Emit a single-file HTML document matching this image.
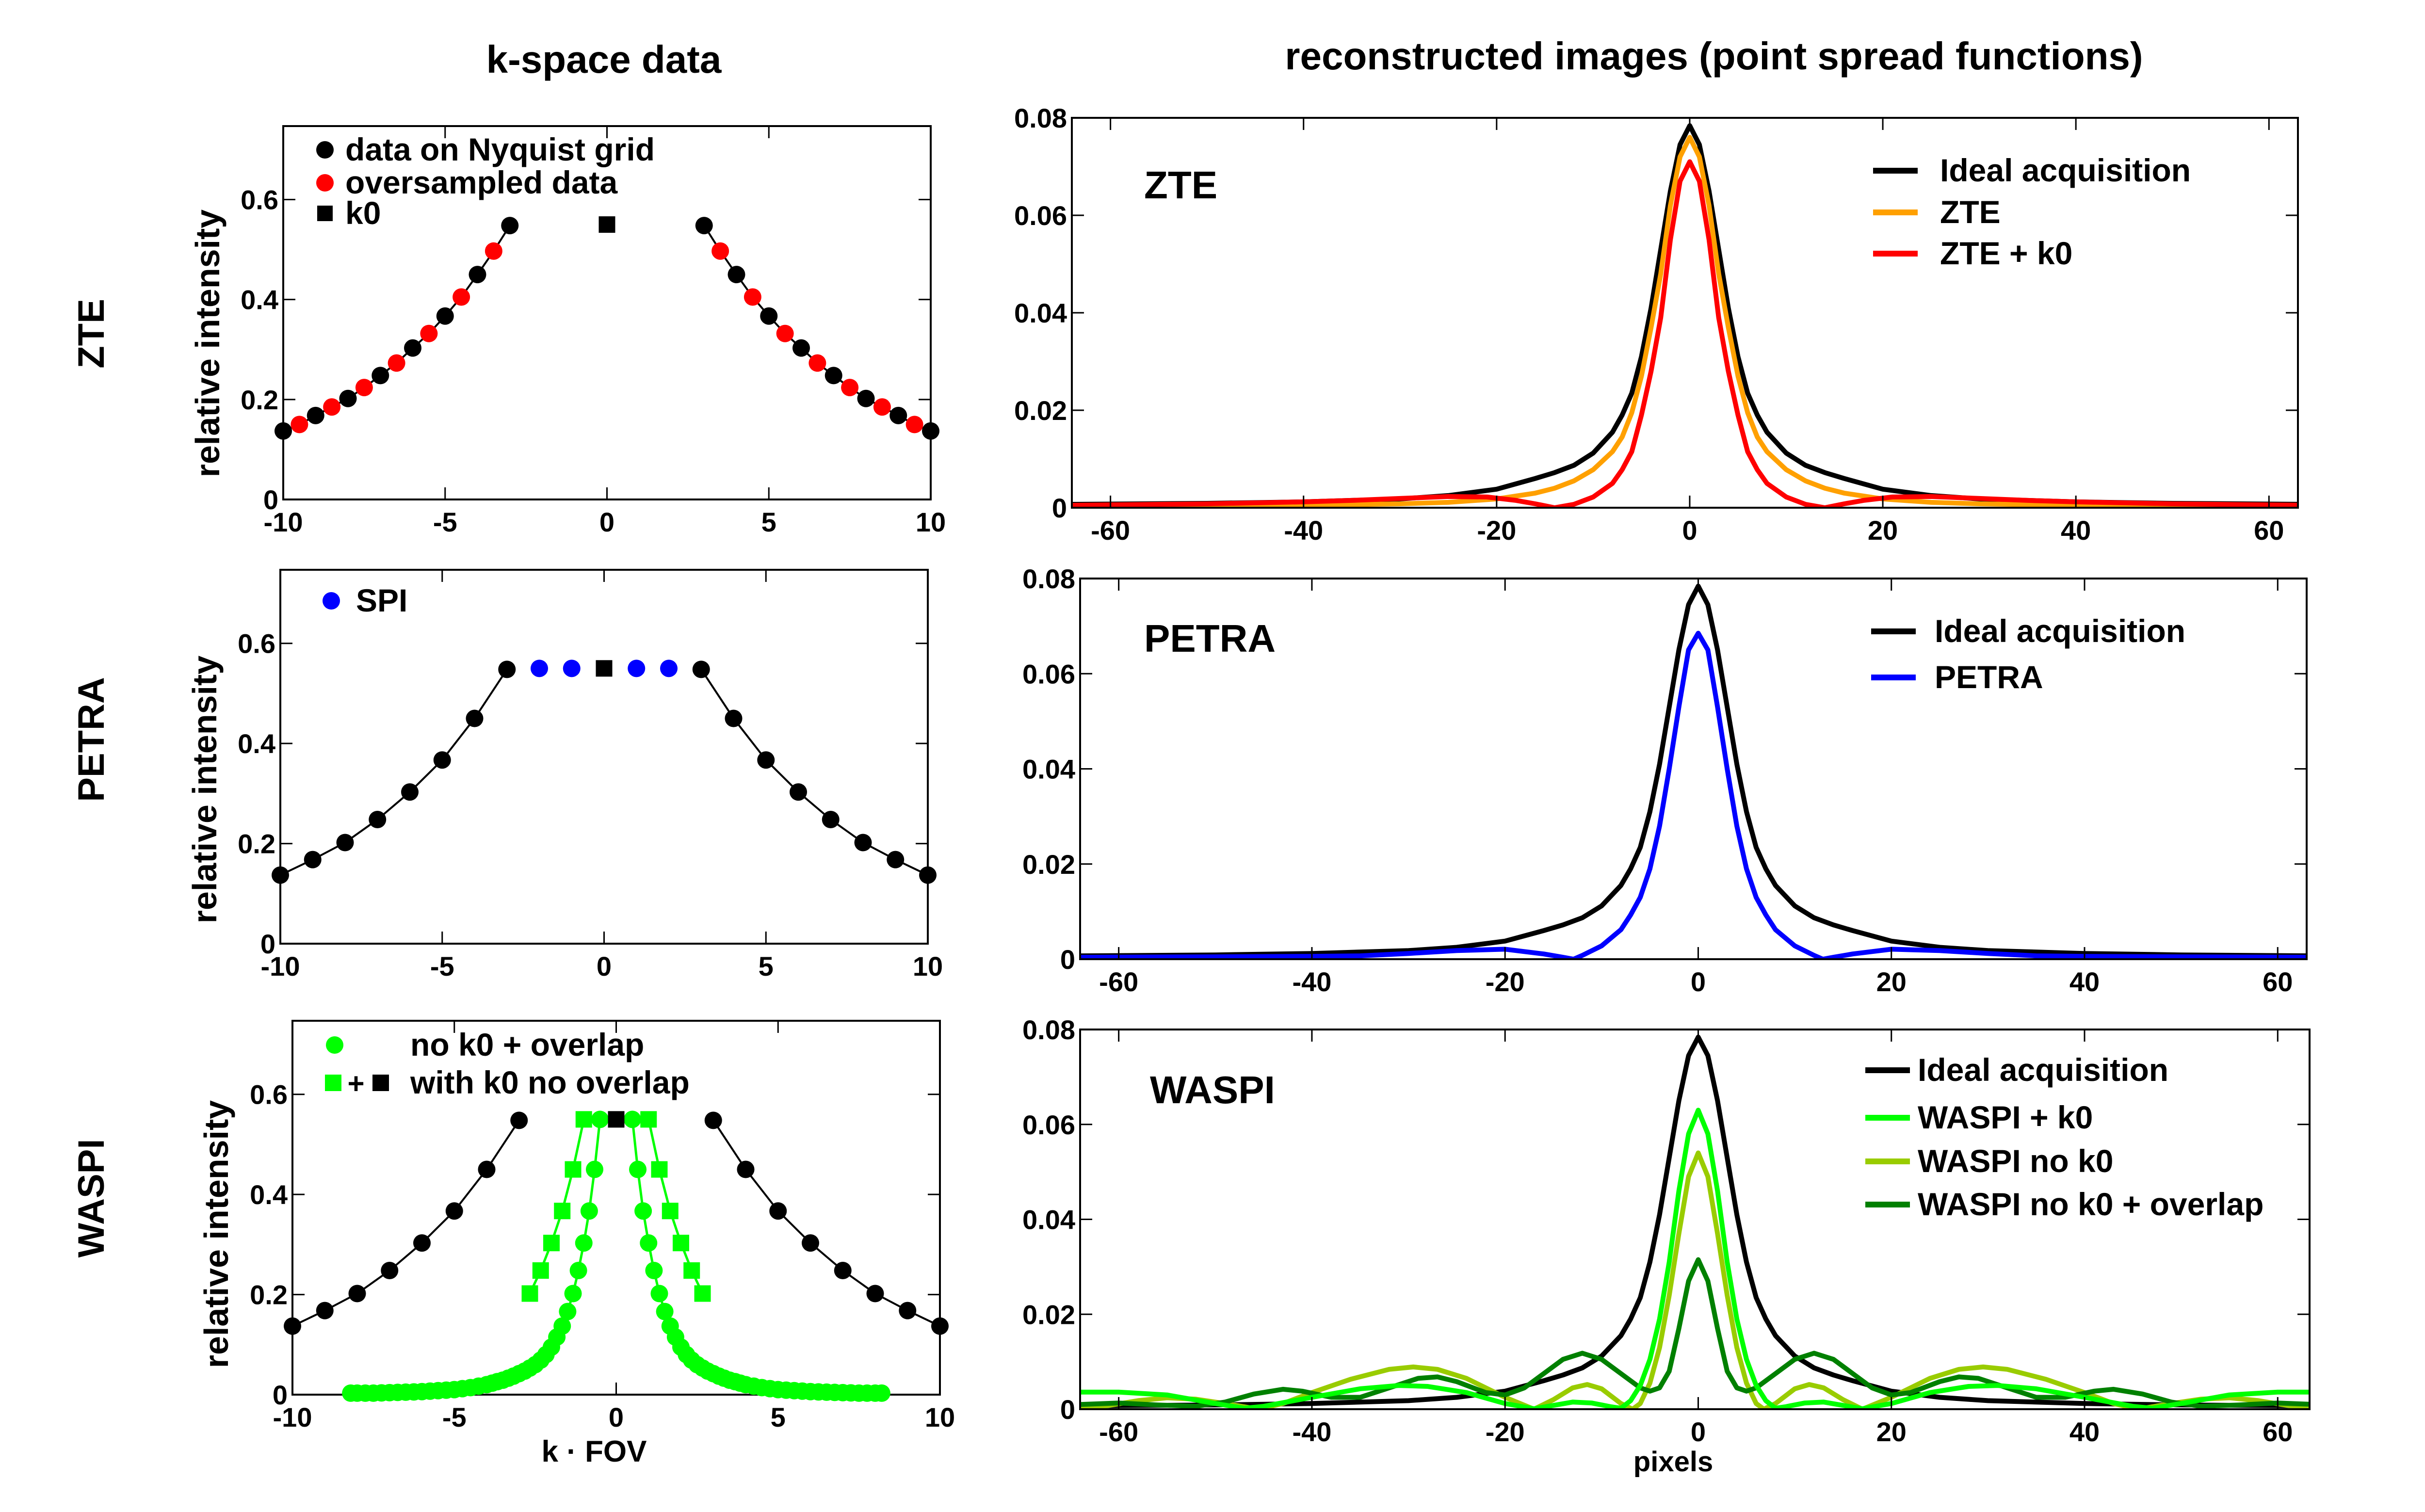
<!DOCTYPE html>
<html><head><meta charset="utf-8">
<style>
html,body{margin:0;padding:0;background:#fff;}
svg{display:block;font-family:"Liberation Sans",Arial,sans-serif;font-weight:bold;}
</style></head>
<body>
<svg id="fig" width="5074" height="3118" viewBox="0 0 5074 3118" xmlns="http://www.w3.org/2000/svg">
<rect width="5074" height="3118" fill="#fff"/>
<text x="1245" y="150" font-size="80" text-anchor="middle">k-space data</text>
<text x="3534" y="143" font-size="80" text-anchor="middle">reconstructed images (point spread functions)</text>
<text transform="translate(214,688) rotate(-90)" font-size="76" text-anchor="middle">ZTE</text>
<text transform="translate(214,1525) rotate(-90)" font-size="76" text-anchor="middle">PETRA</text>
<text transform="translate(214,2471) rotate(-90)" font-size="76" text-anchor="middle">WASPI</text>
</svg>
<script>
// ---------- k-space data (left column) ----------
const kNyqLeft = [-10,-9,-8,-7,-6,-5,-4,-3];
const vNyqLeft = [0.137,0.168,0.202,0.248,0.303,0.367,0.45,0.548];
const kNyqRight = [3,4,5,6,7,8,9,10];
const vNyqRight = [0.548,0.45,0.367,0.303,0.248,0.202,0.168,0.137];
const kOverLeft = [-9.5,-8.5,-7.5,-6.5,-5.5,-4.5,-3.5];
const vOverLeft = [0.150,0.185,0.224,0.273,0.332,0.405,0.497];
const kOverRight = [3.5,4.5,5.5,6.5,7.5,8.5,9.5];
const vOverRight = [0.497,0.405,0.332,0.273,0.224,0.185,0.150];
const kZero = [0];
const vZero = [0.55];
const kSpi = [-2,-1,1,2];
const vSpi = [0.55,0.55,0.55,0.55];
const kWsqLeft = [-2.667,-2.333,-2,-1.667,-1.333,-1];
const vWsqLeft = [0.202,0.248,0.303,0.367,0.45,0.55];
const kWsqRight = [1,1.333,1.667,2,2.333,2.667];
const vWsqRight = [0.55,0.45,0.367,0.303,0.248,0.202];
const kWcLeft = [-8.2,-8,-7.75,-7.5,-7.25,-7,-6.75,-6.5,-6.25,-6,-5.75,-5.5,-5.25,-5,-4.75,-4.5,-4.25,-4,-3.83,-3.67,-3.5,-3.33,-3.17,-3,-2.83,-2.67,-2.5,-2.33,-2.17,-2,-1.833,-1.667,-1.5,-1.333,-1.167,-1,-0.833,-0.667,-0.5];
const vWcLeft = [0.003,0.003,0.003,0.003,0.0035,0.004,0.0045,0.005,0.0055,0.006,0.007,0.008,0.009,0.01,0.012,0.014,0.017,0.02,0.023,0.026,0.029,0.033,0.037,0.042,0.047,0.053,0.06,0.069,0.08,0.095,0.115,0.137,0.166,0.202,0.248,0.303,0.367,0.45,0.55];
const kWcRight = [0.5,0.667,0.833,1,1.167,1.333,1.5,1.667,1.833,2,2.17,2.33,2.5,2.67,2.83,3,3.17,3.33,3.5,3.67,3.83,4,4.25,4.5,4.75,5,5.25,5.5,5.75,6,6.25,6.5,6.75,7,7.25,7.5,7.75,8,8.2];
const vWcRight = [0.55,0.45,0.367,0.303,0.248,0.202,0.166,0.137,0.115,0.095,0.08,0.069,0.06,0.053,0.047,0.042,0.037,0.033,0.029,0.026,0.023,0.02,0.017,0.014,0.012,0.01,0.009,0.008,0.007,0.006,0.0055,0.005,0.0045,0.004,0.0035,0.003,0.003,0.003,0.003];
const kTicks = [-10,-5,0,5,10];
const kTickLabels = ["-10","-5","0","5","10"];
const iTicks = [0,0.2,0.4,0.6];
const iTickLabels = ["0","0.2","0.4","0.6"];

// ---------- PSF data (right column), half profiles x >= 0, mirrored ----------
const psfX_ideal = [0,1,2,3,4,5,6,7,8,10,12,14,16,20,25,30,40,50,64];
const psfV_ideal = [0.0784,0.0745,0.065,0.053,0.041,0.031,0.0235,0.019,0.0155,0.0112,0.0087,0.0072,0.006,0.0038,0.0025,0.0018,0.0012,0.0009,0.0007];
const psfX_zte = [0,1,2,3,4,5,6,7,8,10,12,14,16,20,25,30,40,64];
const psfV_zte = [0.076,0.072,0.062,0.048,0.037,0.027,0.0195,0.0145,0.0115,0.0078,0.0055,0.004,0.003,0.0018,0.0011,0.0008,0.0005,0.0003];
const psfX_ztek0 = [0,1,2,3,4,5,6,7,8,10,12,14,16,18,21,25,30,35,40,50,64];
const psfV_ztek0 = [0.071,0.067,0.055,0.039,0.028,0.019,0.0115,0.0078,0.005,0.0022,0.0007,0,0.0008,0.0015,0.0022,0.0023,0.0019,0.0015,0.0012,0.0008,0.0005];
const psfX_petra = [0,1,2,3,4,5,6,7,8,10,12,12.9,14,16,20,25,30,35,40,50,64];
const psfV_petra = [0.0685,0.065,0.053,0.040,0.028,0.019,0.013,0.0093,0.0062,0.0028,0.0008,0,0.0004,0.0011,0.0021,0.0018,0.0012,0.0007,0.0006,0.0005,0.0004];
const psfX_wk0 = [0,1,2,3,4,5,6,7,8,9,11,13,15,17,20,24,28,31,35,40,45,47,50,55,60,64];
const psfV_wk0 = [0.063,0.058,0.046,0.031,0.019,0.0105,0.005,0.0018,0.0002,0.0005,0.0013,0.0015,0.0008,0.0001,0.0012,0.0035,0.0048,0.005,0.0043,0.0025,0.0006,0.0002,0.0012,0.003,0.0036,0.0036];
const psfX_wnok0 = [0,1,2,3,4,5,6,6.8,8,10,11.5,13,15,17,20,24,27,29.5,32,36,40,43,45.5,49,52,55,58,61,64];
const psfV_wnok0 = [0.054,0.049,0.037,0.024,0.013,0.0055,0.0012,0,0.0012,0.0043,0.0052,0.0045,0.002,0,0.0025,0.0065,0.0084,0.0089,0.0084,0.0063,0.0035,0.0012,0,0.0012,0.0021,0.0024,0.0018,0.0008,0.0001];
const psfX_wov = [0,1,2,3,4,5,6,8,10,12,14,16,18,20,22,25,27,29,32,35,38,41,43,46,49,52,56,60,64];
const psfV_wov = [0.0315,0.027,0.017,0.008,0.0045,0.0038,0.0045,0.0075,0.0105,0.0118,0.0105,0.0075,0.0045,0.003,0.0035,0.0058,0.0068,0.0065,0.0045,0.0025,0.0025,0.0038,0.0042,0.0032,0.0015,0.0006,0.0009,0.0013,0.001];
const pxTicks = [-60,-40,-20,0,20,40,60];
const pxTickLabels = ["-60","-40","-20","0","20","40","60"];
const psfTicks = [0,0.02,0.04,0.06,0.08];
const psfTickLabels = ["0","0.02","0.04","0.06","0.08"];

const NS = "http://www.w3.org/2000/svg";
const svg = document.getElementById('fig');
function mk(tag, attrs, parent){
  const e = document.createElementNS(NS, tag);
  for (const k in attrs) e.setAttribute(k, attrs[k]);
  (parent||svg).appendChild(e);
  return e;
}
let clipId = 0;
function makeAxes(name, box, xlim, ylim, xt, xtl, yt, ytl, tickFont){
  const g = mk('g', {});
  
  
  const sx = v => box.x0 + (v - xlim[0]) / (xlim[1] - xlim[0]) * (box.x1 - box.x0);
  const sy = v => box.y1 - (v - ylim[0]) / (ylim[1] - ylim[0]) * (box.y1 - box.y0);
  const id = 'clip' + (clipId++);
  const cp = mk('clipPath', {id: id}, g);
  mk('rect', {x: box.x0, y: box.y0 - 4, width: box.x1 - box.x0, height: box.y1 - box.y0 + 4}, cp);
  const plot = mk('g', {'clip-path': 'url(#' + id + ')'}, g);
  const frame = mk('g', {}, g);
  mk('rect', {x: box.x0, y: box.y0, width: box.x1 - box.x0, height: box.y1 - box.y0, fill: 'none', stroke: '#000', 'stroke-width': 4}, frame);
  const TL = 25;
  xt.forEach((t, i) => {
    const x = sx(t);
    mk('line', {x1: x, y1: box.y1, x2: x, y2: box.y1 - TL, stroke: '#000', 'stroke-width': 3}, frame);
    mk('line', {x1: x, y1: box.y0, x2: x, y2: box.y0 + TL, stroke: '#000', 'stroke-width': 3}, frame);
    const tx = mk('text', {x: x, y: box.y1 + 66, 'font-size': tickFont, 'text-anchor': 'middle'}, frame);
    
    
    tx.textContent = xtl[i];
  });
  yt.forEach((t, i) => {
    const y = sy(t);
    mk('line', {x1: box.x0, y1: y, x2: box.x0 + TL, y2: y, stroke: '#000', 'stroke-width': 3}, frame);
    mk('line', {x1: box.x1, y1: y, x2: box.x1 - TL, y2: y, stroke: '#000', 'stroke-width': 3}, frame);
    const tx = mk('text', {x: box.x0 - 10, y: y + 20, 'font-size': tickFont, 'text-anchor': 'end'}, frame);
    
    
    tx.textContent = ytl[i];
  });
  return {g, plot, sx, sy, box};
}
function line(ax, xs, vs, color, w, name){
  const pts = xs.map((x, i) => ax.sx(x).toFixed(1) + ',' + ax.sy(vs[i]).toFixed(1)).join(' ');
  const p = mk('polyline', {points: pts, fill: 'none', stroke: color, 'stroke-width': w, 'stroke-linejoin': 'round'}, ax.plot);
  
  
}
function dots(ax, xs, vs, color, r, name){
  xs.forEach((x, i) => {
    const c = mk('circle', {cx: ax.sx(x), cy: ax.sy(vs[i]), r: r, fill: color}, ax.g);
    
    
  });
}
function squares(ax, xs, vs, color, s, name){
  xs.forEach((x, i) => {
    const c = mk('rect', {x: ax.sx(x) - s/2, y: ax.sy(vs[i]) - s/2, width: s, height: s, fill: color}, ax.g);
    
    
  });
}
function mirror(xs, vs){
  const X = [], V = [];
  for (let i = xs.length - 1; i > 0; i--){ X.push(-xs[i]); V.push(vs[i]); }
  for (let i = 0; i < xs.length; i++){ X.push(xs[i]); V.push(vs[i]); }
  return [X, V];
}
function psf(ax, xs, vs, color, name){
  const m = mirror(xs, vs);
  line(ax, m[0], m[1], color, 10, name);
}
function label(txt, x, y, size, name, anchor, rot){
  const t = mk('text', {x: x, y: y, 'font-size': size, 'text-anchor': anchor || 'start'});
  if (rot) { t.setAttribute('transform', 'rotate(-90 ' + x + ' ' + y + ')'); }
  
  
  t.textContent = txt;
  return t;
}
function legLine(x1, x2, y, color, name){
  const l = mk('line', {x1: x1, y1: y, x2: x2, y2: y, stroke: color, 'stroke-width': 12});
  
  
}
const R = 18, SQ = 34, TF = 56;
const GREEN = '#00ff00';

// ---- Left 1: ZTE k-space ----
const a1 = makeAxes('zte-kspace-axes', {x0:584, x1:1919, y0:260, y1:1030}, [-10,10], [0,0.747], kTicks, kTickLabels, iTicks, iTickLabels, TF);
const zL = kNyqLeft.concat(kOverLeft).map((k,i)=>[k, vNyqLeft.concat(vOverLeft)[i]]).sort((a,b)=>a[0]-b[0]);
const zR = kNyqRight.concat(kOverRight).map((k,i)=>[k, vNyqRight.concat(vOverRight)[i]]).sort((a,b)=>a[0]-b[0]);
line(a1, zL.map(p=>p[0]), zL.map(p=>p[1]), '#000', 4, 'zte-kspace-line-left');
line(a1, zR.map(p=>p[0]), zR.map(p=>p[1]), '#000', 4, 'zte-kspace-line-right');
dots(a1, kNyqLeft, vNyqLeft, '#000', R, 'nyquist-point');
dots(a1, kNyqRight, vNyqRight, '#000', R, 'nyquist-point');
dots(a1, kOverLeft, vOverLeft, '#ff0000', R, 'oversampled-point');
dots(a1, kOverRight, vOverRight, '#ff0000', R, 'oversampled-point');
squares(a1, kZero, vZero, '#000', SQ, 'k0-point');
label('relative intensity', 452, 708, 70, 'y-axis-title', 'middle', true);
dots({g:svg, sx:v=>v, sy:v=>v}, [670], [309], '#000', R, 'legend-marker-nyquist');
label('data on Nyquist grid', 712, 331, 66, 'legend-entry-nyquist');
dots({g:svg, sx:v=>v, sy:v=>v}, [670], [377], '#ff0000', R, 'legend-marker-oversampled');
label('oversampled data', 712, 399, 66, 'legend-entry-oversampled');
squares({g:svg, sx:v=>v, sy:v=>v}, [670], [440], '#000', 32, 'legend-marker-k0');
label('k0', 712, 462, 66, 'legend-entry-k0');

// ---- Left 2: PETRA k-space ----
const a2 = makeAxes('petra-kspace-axes', {x0:578, x1:1913, y0:1175, y1:1946}, [-10,10], [0,0.747], kTicks, kTickLabels, iTicks, iTickLabels, TF);
line(a2, kNyqLeft, vNyqLeft, '#000', 4, 'petra-kspace-line-left');
line(a2, kNyqRight, vNyqRight, '#000', 4, 'petra-kspace-line-right');
dots(a2, kNyqLeft, vNyqLeft, '#000', R, 'nyquist-point');
dots(a2, kNyqRight, vNyqRight, '#000', R, 'nyquist-point');
dots(a2, kSpi, vSpi, '#0000ff', R, 'spi-point');
squares(a2, kZero, vZero, '#000', SQ, 'k0-point');
label('relative intensity', 446, 1628, 70, 'y-axis-title', 'middle', true);
dots({g:svg, sx:v=>v, sy:v=>v}, [683], [1239], '#0000ff', R, 'legend-marker-spi');
label('SPI', 734, 1261, 66, 'legend-entry-spi');

// ---- Left 3: WASPI k-space ----
const a3 = makeAxes('waspi-kspace-axes', {x0:603, x1:1938, y0:2105, y1:2876}, [-10,10], [0,0.747], kTicks, kTickLabels, iTicks, iTickLabels, TF);
line(a3, kNyqLeft, vNyqLeft, '#000', 4, 'waspi-kspace-line-left');
line(a3, kNyqRight, vNyqRight, '#000', 4, 'waspi-kspace-line-right');
line(a3, kWsqLeft, vWsqLeft, GREEN, 5, 'waspi-square-line-left');
line(a3, kWsqRight, vWsqRight, GREEN, 5, 'waspi-square-line-right');
line(a3, kWcLeft, vWcLeft, GREEN, 5, 'waspi-circle-line-left');
line(a3, kWcRight, vWcRight, GREEN, 5, 'waspi-circle-line-right');
dots(a3, kNyqLeft, vNyqLeft, '#000', R, 'nyquist-point');
dots(a3, kNyqRight, vNyqRight, '#000', R, 'nyquist-point');
dots(a3, kWcLeft, vWcLeft, GREEN, R, 'overlap-point');
dots(a3, kWcRight, vWcRight, GREEN, R, 'overlap-point');
squares(a3, kWsqLeft, vWsqLeft, GREEN, SQ, 'waspi-square-point');
squares(a3, kWsqRight, vWsqRight, GREEN, SQ, 'waspi-square-point');
squares(a3, kZero, vZero, '#000', SQ, 'k0-point');
label('relative intensity', 470, 2545, 70, 'y-axis-title', 'middle', true);
label('k · FOV', 1225, 3014, 62, 'x-axis-title', 'middle');
dots({g:svg, sx:v=>v, sy:v=>v}, [690], [2155], GREEN, R, 'legend-marker-overlap');
label('no k0 + overlap', 846, 2177, 66, 'legend-entry-overlap');
squares({g:svg, sx:v=>v, sy:v=>v}, [687], [2233], GREEN, SQ, 'legend-marker-square');
label('+', 734, 2255, 60, 'legend-plus', 'middle');
squares({g:svg, sx:v=>v, sy:v=>v}, [785], [2233], '#000', SQ, 'legend-marker-k0');
label('with k0 no overlap', 846, 2255, 66, 'legend-entry-with-k0');

// ---- Right 1: ZTE PSF ----
const b1 = makeAxes('zte-psf-axes', {x0:2210, x1:4738, y0:243, y1:1047}, [-64,63], [0,0.08], pxTicks, pxTickLabels, psfTicks, psfTickLabels, TF);
psf(b1, psfX_ideal, psfV_ideal, '#000', 'ideal-psf-line');
psf(b1, psfX_zte, psfV_zte, '#ffa000', 'zte-psf-line');
psf(b1, psfX_ztek0, psfV_ztek0, '#ff0000', 'zte-k0-psf-line');
label('ZTE', 2359, 409, 80, 'panel-label-zte');
legLine(3862, 3954, 352, '#000', 'legend-line-ideal');
label('Ideal acquisition', 4000, 374, 66, 'legend-entry-ideal');
legLine(3862, 3954, 438, '#ffa000', 'legend-line-zte');
label('ZTE', 4000, 460, 66, 'legend-entry-zte');
legLine(3862, 3954, 523, '#ff0000', 'legend-line-zte-k0');
label('ZTE + k0', 4000, 545, 66, 'legend-entry-zte-k0');

// ---- Right 2: PETRA PSF ----
const b2 = makeAxes('petra-psf-axes', {x0:2227, x1:4756, y0:1193, y1:1978}, [-64,63], [0,0.08], pxTicks, pxTickLabels, psfTicks, psfTickLabels, TF);
psf(b2, psfX_ideal, psfV_ideal, '#000', 'ideal-psf-line');
psf(b2, psfX_petra, psfV_petra, '#0000ff', 'petra-psf-line');
label('PETRA', 2359, 1344, 80, 'panel-label-petra');
legLine(3858, 3950, 1302, '#000', 'legend-line-ideal');
label('Ideal acquisition', 3989, 1324, 66, 'legend-entry-ideal');
legLine(3858, 3950, 1397, '#0000ff', 'legend-line-petra');
label('PETRA', 3989, 1419, 66, 'legend-entry-petra');

// ---- Right 3: WASPI PSF ----
const b3 = makeAxes('waspi-psf-axes', {x0:2227, x1:4762, y0:2123, y1:2906}, [-64,63.3], [0,0.08], pxTicks, pxTickLabels, psfTicks, psfTickLabels, TF);
psf(b3, psfX_ideal, psfV_ideal, '#000', 'ideal-psf-line');
psf(b3, psfX_wnok0, psfV_wnok0, '#99cc00', 'waspi-no-k0-psf-line');
psf(b3, psfX_wov, psfV_wov, '#008000', 'waspi-overlap-psf-line');
psf(b3, psfX_wk0, psfV_wk0, GREEN, 'waspi-k0-psf-line');
label('WASPI', 2371, 2275, 80, 'panel-label-waspi');
legLine(3846, 3938, 2207, '#000', 'legend-line-ideal');
label('Ideal acquisition', 3954, 2229, 66, 'legend-entry-ideal');
legLine(3846, 3938, 2305, GREEN, 'legend-line-waspi-k0');
label('WASPI + k0', 3954, 2327, 66, 'legend-entry-waspi-k0');
legLine(3846, 3938, 2395, '#99cc00', 'legend-line-waspi-no-k0');
label('WASPI no k0', 3954, 2417, 66, 'legend-entry-waspi-no-k0');
legLine(3846, 3938, 2484, '#008000', 'legend-line-waspi-overlap');
label('WASPI no k0 + overlap', 3954, 2506, 66, 'legend-entry-waspi-overlap');
label('pixels', 3450, 3034, 58, 'x-axis-title', 'middle');
</script>
</body></html>
